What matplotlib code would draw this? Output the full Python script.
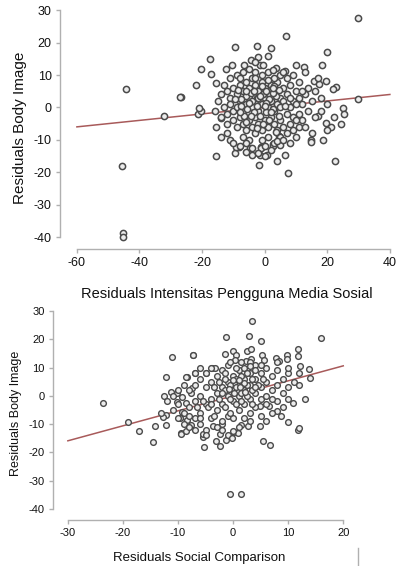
import matplotlib
matplotlib.use("Agg")
import matplotlib.pyplot as plt
from matplotlib.lines import Line2D

plt.rcParams['font.family'] = ['Liberation Sans', 'DejaVu Sans']
plt.rcParams['axes.unicode_minus'] = False

# ---- panel 1: Intensitas Pengguna Media Sosial vs Body Image (residuals)
top_pts = [
    # outliers / sparse points
    (29.7, 27.5), (6.9, 22.2), (-9.6, 18.6), (-2.3, 19.1), (2.1, 18.4), (20, 17.2),
    (-17.4, 14.9), (-4.5, 14.5), (-2.2, 15.7), (18.2, 13.1), (12.5, 12.4), (-20.4, 12),
    (-12.2, 12), (-1.6, 13.2), (3.7, 12.1), (6.4, 11.2), (-17, 10.2), (-22, 6.9),
    (-15.7, 7.5), (-26.8, 3.2), (19.7, 8.3), (22.9, 6.3), (21.8, 5.8), (15.7, 8.2),
    (17.5, 7.1), (29.7, 2.7), (24.9, -0.1), (25.2, -1.9), (24.3, -5.1), (-21.4, -1.9),
    (-20.5, -1.2), (-20.9, -0.2), (-14, -3.2), (-15.4, -5.9), (-13.8, -9.2), (-11.1, -10.2),
    (-8.3, -12.2), (-4.7, -12.5), (-1.2, -12.2), (2.5, -11.2), (4.6, -8.7), (14.9, -10.2),
    (18.7, -10.2), (17, -2.5), (19.7, -4.9), (21.3, -5.9), (-15.4, -15), (-9.4, -14.1),
    (-6.1, -13.8), (-3.9, -14.8), (-1.6, -14.8), (-1.8, -17.7), (0.7, -14.8), (3.9, -16.4),
    (6.4, -14.8), (7.5, -20.2), (22.6, -16.6), (-9.2, -12.3), (-1.1, -12.4), (2.6, -11.9),
    (5.0, -11.6), (14.9, -10.6), (-44.2, 5.6), (-32.3, -2.5), (-27.2, 3.2), (-45.6, -18.1),
    (-45.3, -38.9), (-45.3, -40.0),
    # dense centre
    (-14, 4), (-12, 5), (-11, 3), (-10, 6), (-9, 4), (-8, 7), (-7, 5), (-6, 8), (-5, 6),
    (-4, 9), (-3, 7), (-2, 5), (-1, 8), (0, 6), (1, 4), (2, 7), (3, 5), (4, 8), (5, 3),
    (6, 6), (7, 4), (8, 7), (9, 2), (10, 5), (11, 3), (12, 1), (13, 4), (14, -1),
    (-13, 0), (-12, -2), (-11, 1), (-10, -1), (-9, 0), (-8, 2), (-7, -1), (-6, 1), (-5, 3),
    (-4, 0), (-3, 2), (-2, -1), (-1, 1), (0, 3), (1, 0), (2, 2), (3, -1), (4, 1), (5, 0),
    (6, 2), (7, -2), (8, 0), (9, -3), (10, 1), (11, -2), (12, -4), (-12, -5), (-10, -4),
    (-9, -6), (-8, -3), (-7, -5), (-6, -7), (-5, -4), (-4, -6), (-3, -3), (-2, -5), (-1, -7),
    (0, -4), (1, -6), (2, -3), (3, -5), (4, -7), (5, -4), (6, -6), (7, -8), (8, -5), (9, -7),
    (10, -9), (11, -6), (-7, -9), (-5, -10), (-3, -8), (-1, -10), (1, -9), (3, -11), (5, -9),
    (-11, 9), (-9, 10), (-7, 11), (-5, 12), (-3, 11), (-1, 10), (1, 11), (3, 9), (5, 10),
    (7, 9), (9, 10), (11, 8), (-6, 3.5), (-4.5, 4.5), (-2.5, 3), (-0.5, 4), (1.5, 2.5),
    (3.5, 3.5), (-6.5, -2.5), (-3.5, -1.5), (-1.5, -2.5), (0.5, -1.5), (2.5, -0.5),
    (4.5, -2.5), (-8.5, 5.5), (-7.5, 0.5), (-5.5, -0.5), (-2.5, 0.5), (0.5, 1.5), (2.5, 4.5),
    (4.5, 5.5), (6.5, 0.5), (-4, 2), (-2, 3), (0, 0.5), (2, -1.5), (-6, 5), (-1, 6.5),
    (1, 8.5), (3, 6.5), (-3, 9), (-8, 9), (6, 11), (8, 3), (10, -4), (12, 5), (14, 6),
    (15, 2), (16, -3), (13, -6), (15, -8), (-15, 2), (-14, -3), (-13, 7), (-16, -1),
    (-12, -8), (-10, -11), (-8, -12), (-6, -11), (-4, -12.5), (0, -12), (2, -13),
    (4, -10.5), (6, -10), (8, -11), (-2, -14), (0, -15), (-0.5, 13), (2.5, 11.5),
    (-6.5, 13), (-10.5, 13), (1, 16), (-3, 14), (16, 5), (17, 9), (18, 3), (20, 1),
    (20, -7), (22, -3), (18, -1), (13, 11), (10, 13),
    (-7.5, 2.5), (-5, 1.5), (-3.5, 5), (-1.5, 3.5), (0.5, 5), (2.5, 6), (-8, -1.5),
    (-6, -4.5), (-4.5, -2.5), (-2.5, -6.5), (-0.5, -5), (1.5, -4), (3.5, -7.5), (-9.5, 2.5),
]
top_x = [p[0] for p in top_pts]
top_y = [p[1] for p in top_pts]
top_line_x = [-60, 40]
top_line_y = [-6.0, 4.0]

# ---- panel 2: Social Comparison vs Body Image (residuals)
bot_pts = [
    (-23.6, -2.6), (-19, -9.4), (-17.1, -12.6), (-14.2, -10.5), (-12.2, -6.7), (-12.2, -10.2),
    (-12.8, -7.6), (-12.2, 6.8), (-11.1, 13.7), (-7.3, 14.5), (-7, 8), (-8.4, 6.6),
    (-12.5, 0), (-11.3, 1.2), (-10.2, 1), (-9.3, -0.3), (-10.2, -2.1), (-8.6, -2.4),
    (-7.6, 1), (-7.5, 2.7), (-9.3, -5.6), (-8.7, -7.4), (-9.6, -8), (-8.3, -8.6),
    (-7.7, -10.4), (-9.5, -13.2), (-14.5, -16.4), (-9.5, -13.4), (-8.6, -12.5),
    (-5.4, -14.4), (-5.3, -18.1), (-3.1, -16.1), (-2.3, -17.9), (-2.4, -13.4), (-1.3, -15.5),
    (-1, -13.9), (-0.2, -14.8), (0.2, -12.7), (0.9, -13), (-0.5, -34.6), (1.4, -34.6),
    (5.5, -16), (6.7, -17.4), (11.8, -12), (3.4, 26.3), (-1.3, 20.7), (2.8, 21.3),
    (5.1, 19.4), (16, 20.4), (-7.2, 14.5), (-1.5, 14.7), (-0.1, 15.7), (2.6, 15.8),
    (3.3, 16.6), (0.6, 14.3), (5.3, 14.5), (11.7, 16.7), (11.7, 14.1), (9.8, 14.6),
    (9.8, 12.9), (7.7, 13.3), (8.4, 12.2), (5.6, 12.5), (3.2, 13.1), (2.3, 12.2),
    (0.4, 12.6), (12.2, 10.4), (13.7, 9.5), (13.9, 6.2), (13, -1.1), (10.8, -2.6),
    (10.0, -1.2), (11.9, -11.3), (9.9, -9.3), (8.7, -7.3), (7.9, -5.5), (6.5, -3.7),
    (4.8, -3.7), (4.8, -10.5), (2.7, -10.7), (1.4, -10.2), (0, -12.5), (-2.1, -10.1),
    (-3.6, -10.7), (-5.4, -13.6), (-8.5, 6.6), (-7.0, 8.0), (-4.9, 8), (-3.8, 9.8),
    (-3.2, 9.8),
    # dense centre
    (-8, -4), (-7, -2), (-6, -6), (-6, 0), (-5, -3), (-5, 3), (-4, -8), (-4, -1), (-4, 5),
    (-3, -5), (-3, 1), (-3, 7), (-2, -3), (-2, 3), (-2, 9), (-1, -7), (-1, 0), (-1, 5),
    (-1, 11), (0, -2), (0, 2), (0, 7), (1, -5), (1, 0), (1, 4), (1, 9), (2, -3), (2, 2),
    (2, 6), (2, 10), (3, -1), (3, 4), (3, 8), (4, -4), (4, 1), (4, 6), (4, 11), (5, -1),
    (5, 3), (5, 8), (6, 0), (6, 5), (6, 10), (7, 2), (7, 7), (8, -2), (8, 4), (8, 9),
    (9, 1), (9, 6), (10, 3), (10, 8), (11, 5), (-7, -8), (-6, -10), (-5, -12), (-3, -11),
    (-2, -9), (0, -8), (2, -8), (3, -6), (-8, 2), (-7, 4), (-6, 6), (-5, 8), (-9, -6),
    (-10, -3), (-11, -5), (-10, -8), (-9, -10), (-8, -11), (-0.5, 4), (0.5, 3), (1.5, 1),
    (2.5, 4), (3.5, 2), (-0.5, -1), (-1.5, 2), (-2.5, -1), (-3.5, 3), (0.5, 6), (1.5, 7),
    (2.5, 8), (3.5, 6), (-1.5, 8), (-2.5, 5), (0.5, -3), (1.5, -2), (2.5, 0), (3.5, -3),
    (4.5, 4), (5.5, 6), (-4.5, -4), (-5.5, -2), (-6.5, -4), (-3.5, -7), (-1.5, -4),
    (-0.5, -6), (0.5, 10), (1.5, 12), (-0.5, 12), (3, 12), (5, 11), (-4, -3), (-2, 1),
    (0, 5.5), (2, 4.5), (4, 3), (-6, -8), (-8, -7), (-7, -12), (6, -3), (7, -1), (9, -4),
    (12, 4), (12, 8), (10, 10), (8, 12), (-10, 2), (-11, 0), (-12, -2), (-13, -6),
    (-4, 10), (-6, 10), (-9, 4), (-5, -14), (-2, -12), (1, -11), (3, -9), (5, -7),
    (7, -6), (6, -9), (0.2, 1), (1.2, 3), (2.2, 1.5), (-0.8, 2.5), (1, 5.5), (-1.5, 6),
    (3, 10.5), (4, 9),
]
bot_x = [p[0] for p in bot_pts]
bot_y = [p[1] for p in bot_pts]
bot_line_x = [-30, 20]
bot_line_y = [-15.9, 10.6]

top_xticks = [-60, -40, -20, 0, 20, 40]
top_yticks = [-40, -30, -20, -10, 0, 10, 20, 30]
bot_xticks = [-30, -20, -10, 0, 10, 20]
bot_yticks = [-40, -30, -20, -10, 0, 10, 20, 30]

fig = plt.figure(figsize=(3.96, 5.66), dpi=100)

def style(ax, xt, yt, fs):
    for s in ['top', 'right']:
        ax.spines[s].set_visible(False)
    for s in ['left', 'bottom']:
        ax.spines[s].set_color('#b0b0b0')
        ax.spines[s].set_linewidth(1.0)
    ax.spines['left'].set_bounds(yt[0], yt[-1])
    ax.spines['bottom'].set_bounds(xt[0], xt[-1])
    ax.set_xticks(xt)
    ax.set_yticks(yt)
    ax.tick_params(length=3, width=1, color='#b0b0b0', labelsize=fs,
                   labelcolor='#111111', pad=3)

# top panel
ax1 = fig.add_axes([60/396, 1-249/566, 333/396, (249-7)/566])
ax1.scatter(top_x, top_y, s=20, facecolors='#ececec', edgecolors='#4a4a4a',
            linewidths=1.1, zorder=3)
ax1.plot(top_line_x, top_line_y, color='#a85a5a', lw=1.1, zorder=2)
ax1.set_xlim(-65.4, 41)
ax1.set_ylim(-43.7, 31)
style(ax1, top_xticks, top_yticks, 9)
ax1.set_xlabel('Residuals Intensitas Pengguna Media Sosial', fontsize=10.5,
               color='#111111', labelpad=13)
ax1.set_ylabel('Residuals Body Image', fontsize=11, color='#111111', labelpad=5)

# bottom panel
ax2 = fig.add_axes([53/396, 1-520/566, 293/396, (520-307)/566])
ax2.scatter(bot_x, bot_y, s=17, facecolors='#ececec', edgecolors='#4a4a4a',
            linewidths=1.0, zorder=3)
ax2.plot(bot_line_x, bot_line_y, color='#a85a5a', lw=1.1, zorder=2)
ax2.set_xlim(-32.7, 20.5)
ax2.set_ylim(-43.9, 31.4)
style(ax2, bot_xticks, bot_yticks, 8)
ax2.set_xlabel('Residuals Social Comparison', fontsize=9.5, color='#111111',
               labelpad=10)
ax2.set_ylabel('Residuals Body Image', fontsize=9, color='#111111', labelpad=5)

# small stray mark at bottom right
fig.add_artist(Line2D([358/396, 358/396], [0, 18/566], color='#b0b0b0', lw=1))

fig.savefig('out.png', dpi=100)
